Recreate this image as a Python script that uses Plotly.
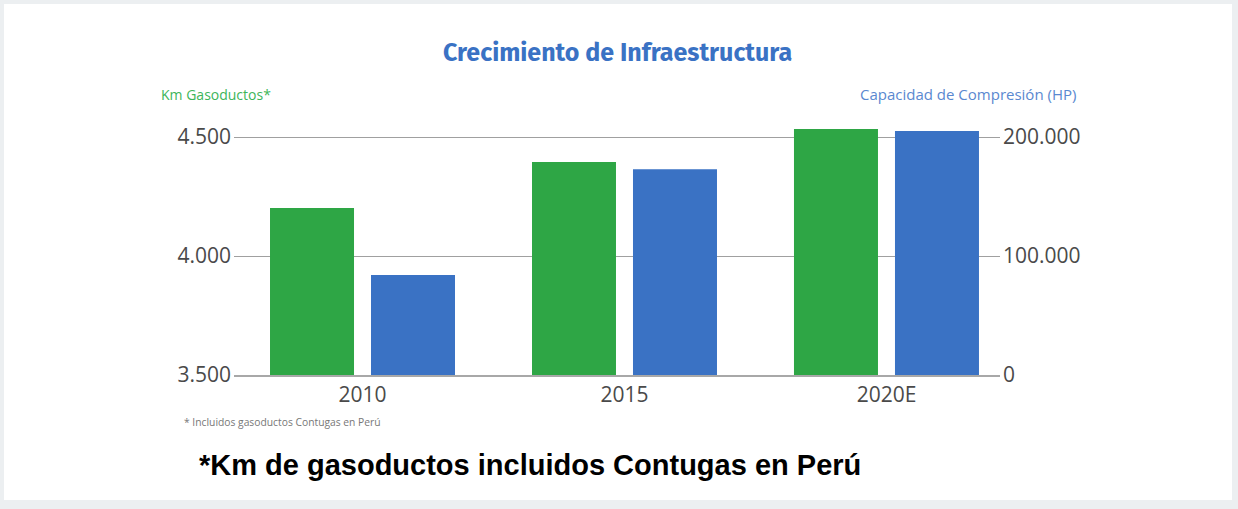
import plotly.graph_objects as go

categories = ["2010", "2015", "2020E"]
km_gasoductos = [4202, 4395, 4534]
capacidad_hp = [84000, 173000, 205000]
left_ticks = [3500, 4000, 4500]
left_tick_text = ["3.500", "4.000", "4.500"]
right_ticks = [0, 100000, 200000]
right_tick_text = ["0", "100.000", "200.000"]

W, H = 1238, 509
L, R, T, B = 234, 1000, 110, 375
pw, ph = R - L, B - T

def px(x):
    return (x - L) / pw

def py(y):
    return (B - y) / ph

green = "#2ea645"
blue = "#3a72c4"

fig = go.Figure()
fig.add_trace(go.Bar(x=categories, y=km_gasoductos, name="Km Gasoductos*",
                     marker=dict(color=green, line=dict(width=0)),
                     width=84 / 262, offset=-92.5 / 262, yaxis="y"))
fig.add_trace(go.Bar(x=categories, y=capacidad_hp, name="Capacidad de Compresión (HP)",
                     marker=dict(color=blue, line=dict(width=0)),
                     width=84 / 262, offset=8.5 / 262, yaxis="y2"))

left_top = 3500 + ph * 500 / 119
right_top = ph * 100000 / 119

tickfont = dict(family="Open Sans, sans-serif", size=21, color="#4a4a4a")

fig.update_layout(
    width=W, height=H,
    margin=dict(l=L, r=W - R, t=T, b=H - B, pad=0),
    paper_bgcolor="#eceff1",
    plot_bgcolor="rgba(0,0,0,0)",
    showlegend=False,
    barmode="overlay",
    xaxis=dict(type="category", range=[-0.4905, 2.4333], showgrid=False,
               showline=True, linecolor="#a8a8a8", linewidth=2,
               ticks="", tickfont=tickfont, fixedrange=True),
    yaxis=dict(range=[3500, left_top], tickvals=left_ticks, ticktext=left_tick_text,
               showgrid=True, gridcolor="#a0a0a0", gridwidth=1, zeroline=False,
               ticks="", tickfont=tickfont, ticklabelstandoff=2, showline=False),
    yaxis2=dict(range=[0, right_top], tickvals=right_ticks, ticktext=right_tick_text,
                overlaying="y", side="right", showgrid=False, zeroline=False,
                ticks="", tickfont=tickfont, ticklabelstandoff=2, showline=False),
    shapes=[
        dict(type="rect", xref="paper", yref="paper", layer="below",
             x0=px(4), x1=px(1232), y0=py(500), y1=py(4),
             fillcolor="white", line=dict(width=0)),
    ],
    annotations=[
        dict(text="<b>Crecimiento de Infraestructura</b>", x=px(617), y=py(53),
             xref="paper", yref="paper", showarrow=False,
             font=dict(family="Fira Sans, Open Sans, sans-serif", size=25, color="#3a72c4"),
             xanchor="center", yanchor="middle"),
        dict(text="Km Gasoductos*", x=px(159), y=py(94), xref="paper", yref="paper",
             showarrow=False, xanchor="left", yanchor="middle",
             font=dict(family="Open Sans, sans-serif", size=14, color="#3db55a")),
        dict(text="Capacidad de Compresión (HP)", x=px(1078), y=py(94), xref="paper", yref="paper",
             showarrow=False, xanchor="right", yanchor="middle",
             font=dict(family="Open Sans, sans-serif", size=15, color="#5a88d0")),
        dict(text="* Incluidos gasoductos Contugas en Perú", x=px(182), y=py(422),
             xref="paper", yref="paper", showarrow=False, xanchor="left", yanchor="middle",
             font=dict(family="Open Sans, sans-serif", size=10.3, color="#777777")),
        dict(text="<b>*Km de gasoductos incluidos Contugas en Perú</b>", x=px(197), y=py(465),
             xref="paper", yref="paper", showarrow=False, xanchor="left", yanchor="middle",
             font=dict(family="Liberation Sans, Arial, sans-serif", size=29, color="#000000")),
    ],
)

fig.write_html("out.html", config={"displayModeBar": False},
               post_script="document.body.style.margin='0';document.body.style.overflow='hidden';")
